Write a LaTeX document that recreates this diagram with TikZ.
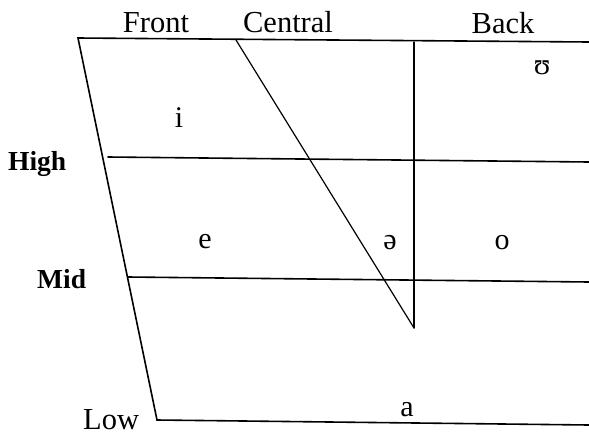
\documentclass[tikz,border=0pt]{standalone}
\usepackage{fontspec}
\setmainfont{Liberation Serif}
\begin{document}
\begin{tikzpicture}[x=1pt,y=-1pt,
  edge/.style={line width=1.6pt, line cap=round},
  thin edge/.style={line width=1.2pt, line cap=round},
  lab/.style={anchor=base, inner sep=0pt, font=\fontsize{30.5}{36}\selectfont},
  blab/.style={anchor=base west, inner sep=0pt, font=\fontsize{27.5}{33}\selectfont\bfseries},
  vow/.style={anchor=base, inner sep=0pt, font=\fontsize{30}{36}\selectfont}]
\useasboundingbox (0,0) rectangle (589,437);
% corners
\coordinate (TL) at (78,38);
\coordinate (TR) at (589,42);
\coordinate (BL) at (157,420);
\coordinate (BR) at (589,425);
\coordinate (HL) at (108,157);
\coordinate (HR) at (589,162);
\coordinate (ML) at (128,277);
\coordinate (MR) at (589,282);
\coordinate (VT) at (414,42);
\coordinate (VB) at (414,328);
\coordinate (DT) at (236,40);
% frame
\draw[edge] (TR) -- (TL) -- (BL) -- (BR);
\draw[edge] (HL) -- (HR);
\draw[edge] (ML) -- (MR);
\draw[thin edge] (VT) -- (VB);
\draw[thin edge] (DT) -- (VB);
% column labels
\node[lab] (front) at (156,32) {Front};
\node[lab] (central) at (288,32) {Central};
\node[lab] (back) at (503,33) {Back};
% row labels
\node[blab] (high) at (8,170) {High};
\node[blab] (mid) at (37,288) {Mid};
\node[lab, anchor=base west] (low) at (83,429) {Low};
% vowels
\node[vow] (i) at (179,127) {i};
\node[vow] (u) at (542,74) {ʊ};
\node[vow] (e) at (205,248) {e};
\node[vow] (schwa) at (390,249) {ə};
\node[vow] (o) at (502,249) {o};
\node[vow] (a) at (407,416) {a};
\end{tikzpicture}
\end{document}
